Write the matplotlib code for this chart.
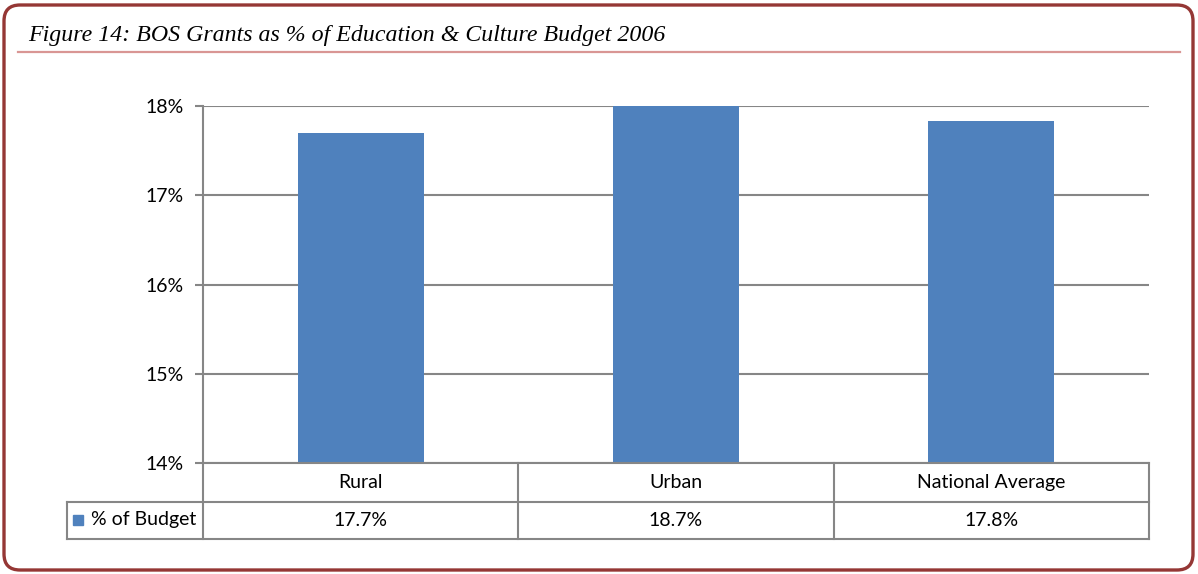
import numpy as np
import matplotlib.pyplot as plt
from matplotlib.patches import FancyBboxPatch, Rectangle
from matplotlib.lines import Line2D
from matplotlib.transforms import IdentityTransform, blended_transform_factory

categories = ['Rural', 'Urban', 'National Average']
values = [17.7, 18.7, 17.83]
series_name = '% of Budget'
yticks = [14, 15, 16, 17, 18]
title = 'Figure 14: BOS Grants as % of Education & Culture Budget 2006'

W, H = 1198, 574
bar_color = '#4f81bd'
grid_color = '#868686'
font = 'Lato'
fs = 14

fig = plt.figure(figsize=(W / 100, H / 100), dpi=100)

def fx(px):
    return px / W

def fy(py):
    return 1 - py / H

# outer rounded frame
frame = FancyBboxPatch((4, 4), W - 9, H - 9, boxstyle='round,pad=0,rounding_size=16',
                       transform=IdentityTransform(), facecolor='white',
                       edgecolor='#953735', linewidth=2.4, zorder=0)
fig.add_artist(frame)

fig.text(fx(28), fy(41), title, fontsize=17.2, style='italic',
         family='Liberation Serif', color='black', va='baseline')
fig.add_artist(Line2D([fx(18), fx(1180)], [fy(52), fy(52)], color='#d99694', lw=1.6))

# plot area
left, top, right, bottom = 203, 106, 1149, 463
ax = fig.add_axes([fx(left), fy(bottom), fx(right - left), (bottom - top) / H])
x = np.arange(len(categories))
ax.bar(x, values, width=0.4, color=bar_color, zorder=2)
ax.set_xlim(-0.5, len(categories) - 0.5)
ax.set_ylim(14, 18)
ax.set_yticks(yticks)
ax.set_yticklabels([f'{t}%' for t in yticks], family=font, fontsize=fs)
ax.set_xticks([])
ax.tick_params(axis='y', length=5.8, width=1.5, color=grid_color, pad=8.0)
ax.yaxis.grid(True, color=grid_color, lw=1.5, zorder=1)
for s in ['top', 'right', 'bottom']:
    ax.spines[s].set_visible(False)
ax.spines['left'].set_color(grid_color)
ax.spines['left'].set_linewidth(1.5)

# data table below the axis
tr = blended_transform_factory(ax.transData, ax.transAxes)
ph = bottom - top
r1 = -(502 - bottom) / ph
r2 = -(539 - bottom) / ph
xl = -0.5 - (left - 67) / ((right - left) / len(categories))
lk = dict(color=grid_color, lw=1.5, transform=tr, clip_on=False)
n = len(categories)
ax.add_line(Line2D([-0.5, n - 0.5], [0, 0], **lk))
ax.add_line(Line2D([xl, n - 0.5], [r1, r1], **lk))
ax.add_line(Line2D([xl, n - 0.5], [r2, r2], **lk))
ax.add_line(Line2D([xl, xl], [r1, r2], **lk))
for b in np.arange(n + 1) - 0.5:
    ax.add_line(Line2D([b, b], [0, r2], **lk))
for i, c in enumerate(categories):
    ax.text(i, r1 / 2, c, transform=tr, ha='center', va='center',
            family=font, fontsize=fs)
    ax.text(i, (r1 + r2) / 2, f'{values[i]:.1f}%', transform=tr, ha='center',
            va='center', family=font, fontsize=fs)

fig.add_artist(Rectangle((fx(73), fy(525)), fx(10), 10 / H, color=bar_color))
fig.text(fx(91), fy(519), series_name, family=font, fontsize=fs, va='center')

fig.savefig('out.png', dpi=100)
